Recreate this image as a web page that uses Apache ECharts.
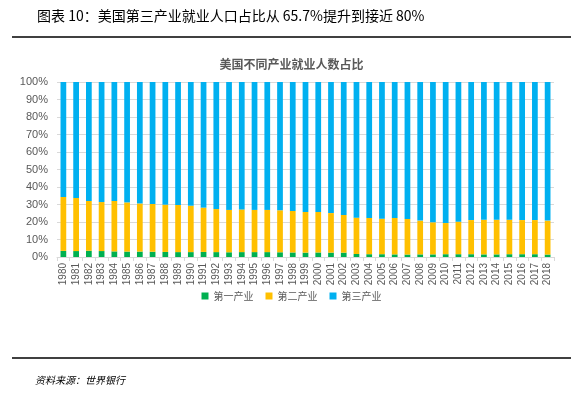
<!DOCTYPE html>
<html><head><meta charset="utf-8">
<script src="https://cdn.jsdelivr.net/npm/echarts@6/dist/echarts.min.js"></script>
<style>html,body{margin:0;padding:0;background:#fff}#c{width:583px;height:398px}</style>
</head><body><div id="c"></div>
<script>
var years = ['1980','1981','1982','1983','1984','1985','1986','1987','1988','1989','1990','1991','1992','1993','1994','1995','1996','1997','1998','1999','2000','2001','2002','2003','2004','2005','2006','2007','2008','2009','2010','2011','2012','2013','2014','2015','2016','2017','2018'];
var primary = [3.5,3.4,3.6,3.4,3.2,3.1,3.1,3.0,2.9,2.8,2.8,2.9,2.8,2.7,2.8,2.8,2.8,2.7,2.6,2.5,2.6,2.5,2.5,1.7,1.6,1.6,1.5,1.4,1.5,1.5,1.6,1.6,1.6,1.5,1.5,1.6,1.6,1.6,1.4];
var secondary = [30.8,30.3,28.4,28.0,28.8,28.1,27.5,27.3,27.0,26.9,26.5,25.3,24.6,24.2,24.4,24.1,24.1,24.0,23.7,23.2,23.1,22.6,21.5,20.8,20.7,20.3,20.8,20.3,19.3,18.3,17.8,18.6,19.5,19.8,19.8,19.7,19.5,19.5,19.4];
var tertiary = [65.7,66.3,68.0,68.6,68.0,68.8,69.4,69.7,70.1,70.3,70.7,71.8,72.6,73.1,72.8,73.1,73.1,73.3,73.7,74.3,74.3,74.9,76.0,77.5,77.7,78.1,77.7,78.3,79.2,80.2,80.6,79.8,78.9,78.7,78.7,78.7,78.9,78.9,79.2];
var yTicks = [0,10,20,30,40,50,60,70,80,90,100];
var names = ['第一产业','第二产业','第三产业'];
var colors = ['#00b050','#ffc000','#00b0f0'];

var chart = echarts.init(document.getElementById('c'), null, {renderer:'canvas'});
var font = '"Noto Sans CJK SC","Noto Sans",sans-serif';
function mk(i, data){
  return {name:names[i], type:'bar', stack:'all', data:data, barWidth:'45%',
    itemStyle:{color:colors[i]}, silent:true};
}
chart.setOption({
  animation:false,
  textStyle:{fontFamily:font},
  title:{text:'美国不同产业就业人数占比', left:'center', top:53,
    textStyle:{fontSize:12, fontWeight:'bold', color:'#595959', fontFamily:font}},
  grid:{left:57, right:29, top:82, bottom:141},
  legend:{data:names, bottom:92, left:'center', itemWidth:7, itemHeight:7, itemGap:12,
    icon:'rect', textStyle:{fontSize:10, color:'#595959', fontFamily:font}},
  xAxis:{type:'category', data:years,
    axisLine:{lineStyle:{color:'#d9d9d9'}},
    axisTick:{show:true, length:4, lineStyle:{color:'#d9d9d9'}},
    axisLabel:{rotate:90, fontSize:10, color:'#595959', margin:6, interval:0, fontFamily:'"Liberation Sans",Arial,sans-serif'}},
  yAxis:{type:'value', min:yTicks[0], max:yTicks[yTicks.length-1], interval:10,
    axisLine:{show:false}, axisTick:{show:false},
    splitLine:{lineStyle:{color:'#d9d9d9'}},
    axisLabel:{formatter:'{value}%', fontSize:11, color:'#595959', margin:9, fontFamily:'"Liberation Sans",Arial,sans-serif'}},
  series:[mk(0,primary), mk(1,secondary), mk(2,tertiary)],
  graphic:[
    {type:'text', left:37, top:9, style:{text:'图表 10：美国第三产业就业人口占比从 65.7%提升到接近 80%', fontSize:14, fill:'#000', fontFamily:font}},
    {type:'line', shape:{x1:12,y1:37,x2:571,y2:37}, style:{stroke:'#000', lineWidth:1.5}},
    {type:'line', shape:{x1:12,y1:358,x2:571,y2:358}, style:{stroke:'#000', lineWidth:1.5}},
    {type:'text', left:35, top:375, style:{text:'资料来源：世界银行', fontSize:10, fontStyle:'italic', fill:'#000', fontFamily:font}}
  ]
});
</script></body></html>
